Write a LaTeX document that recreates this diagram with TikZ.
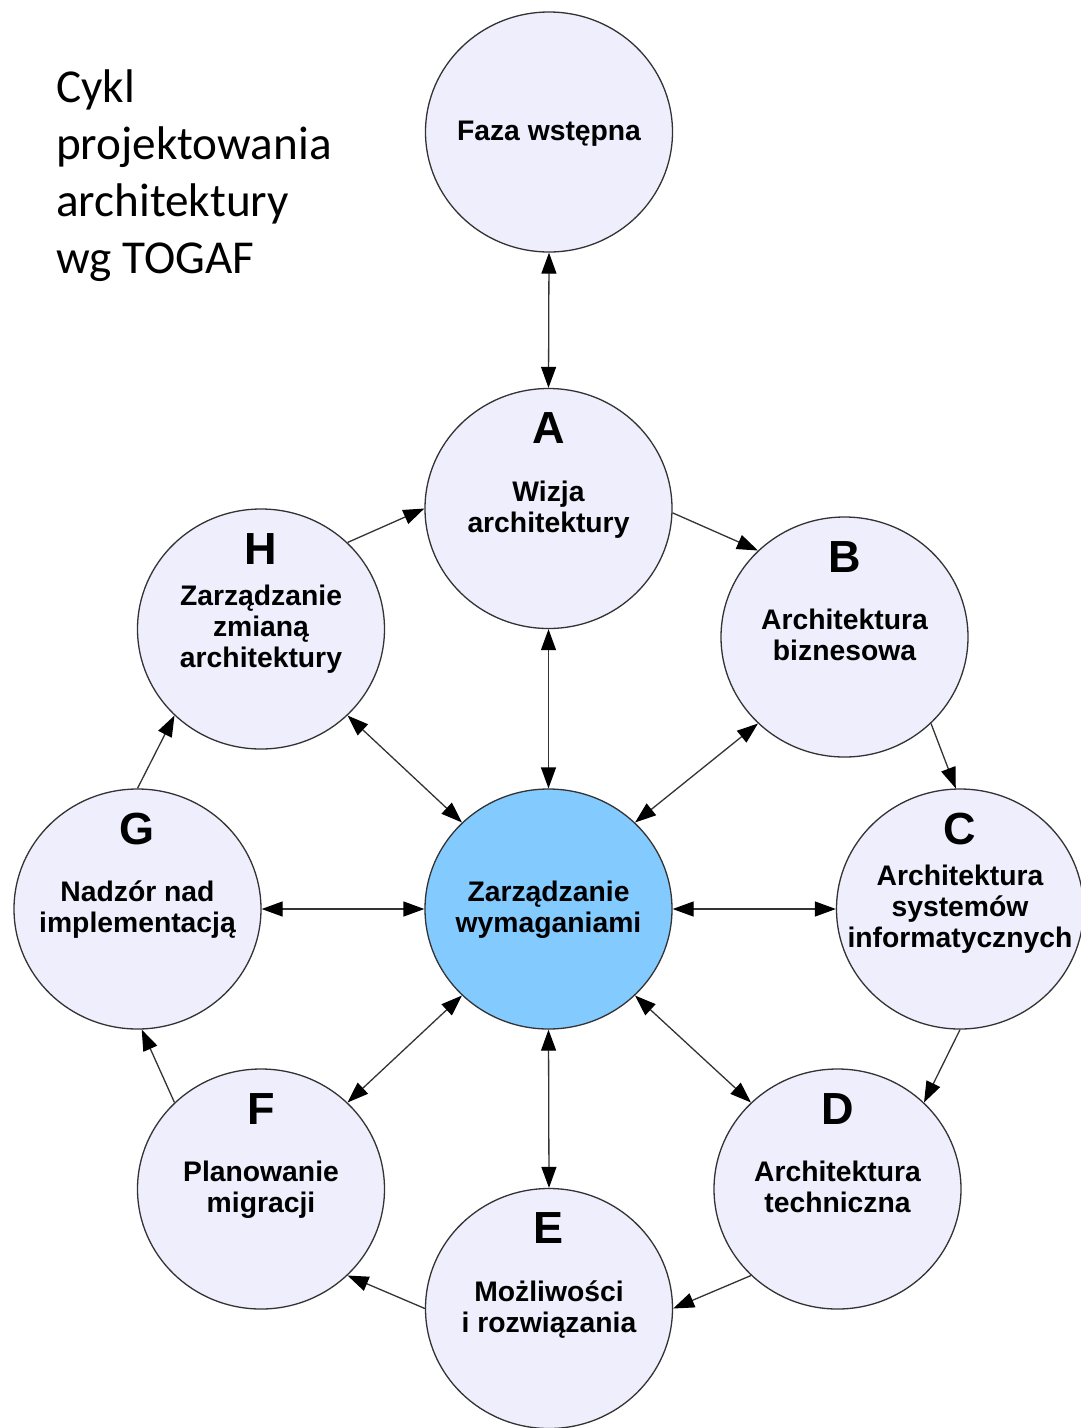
\documentclass[tikz,border=0pt]{standalone}
\usepackage{fontspec}
\usetikzlibrary{shapes.geometric,arrows.meta}
\newfontfamily\nodefont{Liberation Sans}
\newfontfamily\titlefont{Carlito}
\definecolor{lav}{RGB}{238,238,252}
\definecolor{reqblue}{RGB}{131,202,255}
\definecolor{linec}{RGB}{51,51,51}
\newcommand\mlines[1]{\vtop{\baselineskip=31pt\lineskiplimit=-100pt\lineskip=0pt\halign{\hfil##\hfil\cr#1\crcr}}}
\begin{document}
\begin{tikzpicture}[x=1pt,y=-1pt,
  phase/.style={ellipse, draw=linec, line width=1.3pt, fill=lav, minimum width=247pt, minimum height=240pt, inner sep=0pt},
  req/.style={phase, fill=reqblue},
  letter/.style={font=\nodefont\bfseries\fontsize{45}{45}\selectfont, anchor=base, inner sep=0pt},
  desc/.style={font=\nodefont\bfseries\fontsize{28.3}{31}\selectfont, anchor=base, inner sep=0pt},
  title/.style={font=\titlefont\fontsize{47.2}{57}\selectfont, anchor=base west, inner sep=0pt},
  tip/.tip={Triangle[length=21pt,width=15pt,fill=black,color=black]},
  link/.style={draw=linec, line width=1.3pt, -tip},
  dlink/.style={draw=linec, line width=1.3pt, tip-tip}
]
\fill[white] (0,0) rectangle (1081,1428);
\useasboundingbox (0,0) rectangle (1081,1428);

\node[title] (title) at (56,102) {\vtop{\baselineskip=57pt\hbox{Cykl}\hbox{projektowania}\hbox{architektury}\hbox{wg TOGAF}}};

\node[phase] (faza) at (549,132) {};
\node[desc] (fazat) at ([yshift=-8pt]faza.center) {Faza wstępna};

\node[phase] (A) at (548.5,508.5) {};
\node[letter] (Al) at ([yshift=65pt]A.center) {A};
\node[desc] (At) at ([yshift=7.5pt]A.center) {\mlines{Wizja\cr architektury}};

\node[phase] (B) at (844.5,637) {};
\node[letter] (Bl) at ([yshift=65pt]B.center) {B};
\node[desc] (Bt) at ([yshift=7.5pt]B.center) {\mlines{Architektura\cr biznesowa}};

\node[phase] (C) at (960,909) {};
\node[letter] (Cl) at ([yshift=65pt]C.center) {C};
\node[desc] (Ct) at ([yshift=23.5pt]C.center) {\mlines{Architektura\cr systemów\cr informatycznych}};

\node[phase] (D) at (837.5,1189) {};
\node[letter] (Dl) at ([yshift=65pt]D.center) {D};
\node[desc] (Dt) at ([yshift=7.5pt]D.center) {\mlines{Architektura\cr techniczna}};

\node[phase] (E) at (549,1308.5) {};
\node[letter] (El) at ([yshift=65pt]E.center) {E};
\node[desc] (Et) at ([yshift=7.5pt]E.center) {\mlines{Możliwości\cr i rozwiązania}};

\node[phase] (F) at (261,1189) {};
\node[letter] (Fl) at ([yshift=65pt]F.center) {F};
\node[desc] (Ft) at ([yshift=7.5pt]F.center) {\mlines{Planowanie\cr migracji}};

\node[phase] (G) at (137.5,909) {};
\node[letter] (Gl) at ([yshift=65pt]G.center) {G};
\node[desc] (Gt) at ([yshift=7.5pt]G.center) {\mlines{Nadzór nad\cr implementacją}};

\node[phase] (H) at (261,629) {};
\node[letter] (Hl) at ([yshift=65pt]H.center) {H};
\node[desc] (Ht) at ([yshift=23.5pt]H.center) {\mlines{Zarządzanie\cr zmianą\cr architektury}};

\node[req] (Z) at (548.5,909) {};
\node[desc] (Zt) at ([yshift=7.5pt]Z.center) {\mlines{Zarządzanie\cr wymaganiami}};

\draw[dlink] (faza.south) -- (A.north);
\draw[link] (A.-2) -- (B.135);
\draw[link] (B.-45) -- (C.92);
\draw[link] (C.south) -- (D.45);
\draw[link] (D.-135) -- (E.east);
\draw[link] (E.west) -- (F.-45);
\draw[link] (F.135) -- (G.-88);
\draw[link] (G.north) -- (H.-135);
\draw[link] (H.45) -- (A.west);

\draw[dlink] (Z.north) -- (A.south);
\draw[dlink] (Z.45) -- (B.-135);
\draw[dlink] (Z.east) -- (C.west);
\draw[dlink] (Z.-45) -- (D.135);
\draw[dlink] (Z.south) -- (E.north);
\draw[dlink] (Z.-135) -- (F.45);
\draw[dlink] (Z.west) -- (G.east);
\draw[dlink] (Z.135) -- (H.-45);
\end{tikzpicture}
\end{document}
